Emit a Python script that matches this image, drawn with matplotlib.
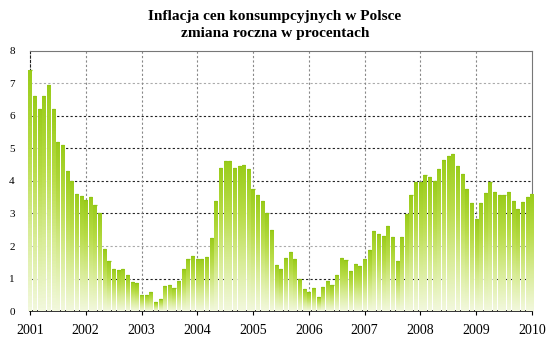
import matplotlib
matplotlib.use("Agg")
import matplotlib.pyplot as plt
import numpy as np
from matplotlib.colors import LinearSegmentedColormap

# roczna inflacja CPI, miesiecznie od I 2001 do I 2010
cpi_2001 = [7.4, 6.6, 6.2, 6.6, 6.95, 6.2, 5.2, 5.1, 4.3, 4.0, 3.6, 3.55]
cpi_2002 = [3.4, 3.5, 3.25, 3.0, 1.9, 1.55, 1.3, 1.25, 1.3, 1.1, 0.9, 0.85]
cpi_2003 = [0.5, 0.5, 0.57, 0.27, 0.37, 0.77, 0.8, 0.72, 0.92, 1.28, 1.6, 1.69]
cpi_2004 = [1.6, 1.6, 1.67, 2.26, 3.38, 4.41, 4.62, 4.62, 4.41, 4.46, 4.48, 4.37]
cpi_2005 = [3.75, 3.57, 3.38, 3.0, 2.49, 1.42, 1.28, 1.64, 1.83, 1.59, 1.0, 0.68]
cpi_2006 = [0.57, 0.7, 0.44, 0.73, 0.92, 0.79, 1.11, 1.62, 1.57, 1.24, 1.44, 1.39]
cpi_2007 = [1.6, 1.88, 2.46, 2.37, 2.32, 2.6, 2.27, 1.54, 2.29, 2.98, 3.57, 3.96]
cpi_2008 = [3.98, 4.18, 4.11, 4.0, 4.36, 4.65, 4.77, 4.83, 4.46, 4.22, 3.75, 3.33]
cpi_2009 = [2.83, 3.33, 3.64, 3.98, 3.65, 3.56, 3.57, 3.65, 3.38, 3.14, 3.36, 3.5]
cpi_2010 = [3.6]

years = list(range(2001, 2011))
values = np.array(cpi_2001 + cpi_2002 + cpi_2003 + cpi_2004 + cpi_2005 +
                  cpi_2006 + cpi_2007 + cpi_2008 + cpi_2009 + cpi_2010)
months = 2001 + np.arange(len(values)) / 12.0

plt.rcParams['font.family'] = ['Liberation Serif', 'DejaVu Serif']

fig = plt.figure(figsize=(5.5, 3.42), dpi=100)
ax = fig.add_axes([0.0545, 0.0906, 0.9125, 0.7604])

cmap = LinearSegmentedColormap.from_list(
    "zielony", ["#f2f8dc", "#d8ec96", "#b8dc48", "#9acc1a"])
grad = np.linspace(0, 1, 64).reshape(-1, 1)

bar_width = 0.055
bars = ax.bar(months, values, width=bar_width, color="none", edgecolor="none", zorder=3)
for b, v in zip(bars, values):
    x0 = b.get_x()
    im = ax.imshow(grad, cmap=cmap, origin="lower", aspect="auto",
                   extent=(x0, x0 + bar_width, 0, v), zorder=3)
    im.set_clip_path(b)
ax.hlines(values, months - bar_width / 2, months + bar_width / 2,
          color="#8fc416", lw=0.9, zorder=4)

ax.set_xlim(2001, 2010)
ax.set_ylim(0, 8)
ax.set_xticks(years)
ax.set_xticklabels([str(y) for y in years], fontsize=10)
ax.set_yticks(range(0, 9))
ax.set_yticklabels([str(i) for i in range(0, 9)], fontsize=8)
ax.tick_params(axis="y", length=0, pad=11)
ax.tick_params(axis="x", length=3, direction="out", pad=6)

for i in range(1, 8):
    ax.axhline(i, color="#222222" if i not in (2, 7) else "#aaaaaa",
               lw=0.8, ls=(0, (2, 2)), zorder=1)
for y in years[1:-1]:
    ax.axvline(y, color="#888888", lw=0.8, ls=(0, (2, 2)), zorder=1)

ax.spines["top"].set_color("#777777")
ax.spines["right"].set_color("#777777")
ax.spines["left"].set_linestyle((0, (2, 2)))
ax.spines["left"].set_color("#222222")
ax.spines["bottom"].set_color("#111111")
ax.spines["bottom"].set_linewidth(1.2)

fig.suptitle("Inflacja cen konsumpcyjnych w Polsce\nzmiana roczna w procentach",
             fontsize=11.1, fontweight="bold", y=0.97, linespacing=1.4)

fig.savefig("out.png", dpi=100)
